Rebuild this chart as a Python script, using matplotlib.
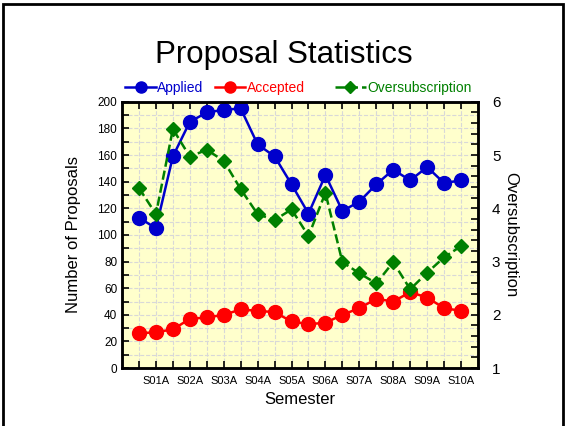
import matplotlib
matplotlib.use("Agg")
import matplotlib.pyplot as plt
from matplotlib.patches import Rectangle
from matplotlib.ticker import MultipleLocator

plt.rcParams['font.family'] = ['Liberation Sans', 'DejaVu Sans']

# data (20 semesters, S00B .. S10A)
semesters = ["S00B", "S01A", "S01B", "S02A", "S02B", "S03A", "S03B", "S04A", "S04B", "S05A",
             "S05B", "S06A", "S06B", "S07A", "S07B", "S08A", "S08B", "S09A", "S09B", "S10A"]
applied = [113, 105, 159, 185, 192, 194, 195, 168, 159, 138,
           116, 145, 118, 125, 138, 149, 141, 151, 139, 141]
accepted = [26, 27, 29, 37, 38, 40, 44, 43, 42, 35,
            33, 34, 40, 45, 52, 50, 57, 53, 45, 43]
oversub = [4.38, 3.89, 5.49, 4.97, 5.10, 4.89, 4.36, 3.89, 3.78, 3.98,
           3.48, 4.29, 2.99, 2.78, 2.59, 2.99, 2.48, 2.79, 3.08, 3.29]

x = list(range(len(semesters)))

fig = plt.figure(figsize=(5.65, 4.26), dpi=100)
ax = fig.add_axes([0.216, 0.136, 0.63, 0.625])
ax2 = ax.twinx()

ax.set_facecolor('#ffffcc')
ax2.patch.set_visible(False)

l1, = ax.plot(x, applied, '-o', color='#0000cc', lw=1.8, ms=10, label='Applied')
l2, = ax.plot(x, accepted, '-o', color='#ff0000', lw=1.8, ms=10, label='Accepted')
l3, = ax2.plot(x, oversub, '--D', color='#008000', lw=1.8, ms=7.5, label='Oversubscription')

ax.set_xlim(-1, 20)
ax.set_ylim(0, 200)
ax2.set_ylim(1, 6)

ax.set_xticks(x[1::2])
ax.set_xticklabels(semesters[1::2], fontsize=8)
ax.set_xticks(x[0::2], minor=True)
ax.yaxis.set_major_locator(MultipleLocator(20))
ax.yaxis.set_minor_locator(MultipleLocator(10))
ax2.yaxis.set_major_locator(MultipleLocator(1))
ax2.yaxis.set_minor_locator(MultipleLocator(0.2))

ax.tick_params(axis='both', which='both', direction='in', length=5, width=1.2,
               top=True, labelsize=8.5)
ax.tick_params(axis='x', labelsize=8, pad=6)
ax2.tick_params(axis='y', which='both', direction='in', length=5, width=1.2,
                labelsize=11, pad=10)

ax.grid(True, which='both', color='#d8d8d8', ls='--', lw=0.8)
ax.set_axisbelow(True)

for sp in ax2.spines.values():
    sp.set_linewidth(1.8)
for sp in ax.spines.values():
    sp.set_linewidth(1.8)

ax.set_xlabel('Semester', fontsize=12)
ax.set_ylabel('Number of Proposals', fontsize=12, labelpad=12)
ax2.set_ylabel('Oversubscription', fontsize=12, rotation=-90, labelpad=13)

fig.text(0.502, 0.872, 'Proposal Statistics', ha='center', va='center', fontsize=22.5)

# legend entries are not evenly spaced in the original, so place each one
for h, c, xpos in [(l1, '#0000cc', 0.222), (l2, '#ff0000', 0.380), (l3, '#008000', 0.593)]:
    lg = fig.legend(handles=[h], loc='center left', bbox_to_anchor=(xpos, 0.793),
                    frameon=False, fontsize=10, handlelength=2.2, handletextpad=0.1,
                    borderaxespad=0, borderpad=0, markerscale=0.8)
    lg.get_texts()[0].set_color(c)

fig.patches.append(Rectangle((0.006, -0.05), 0.99, 1.04, transform=fig.transFigure,
                             fill=False, edgecolor='black', lw=2))

fig.savefig('out.png', dpi=100)
